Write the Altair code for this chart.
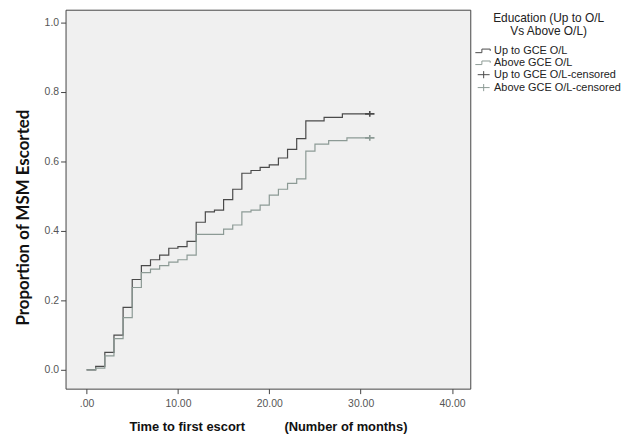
import altair as alt
import pandas as pd

# Kaplan-Meier style cumulative proportions
up_t = [0, 1, 2, 3, 4, 5, 6, 7, 8, 9, 10, 11, 12, 13, 14, 15, 16, 17, 18, 19, 20, 21, 22, 23, 24, 26, 28, 31]
up_p = [0, 0.01, 0.05, 0.10, 0.18, 0.26, 0.30, 0.317, 0.33, 0.35, 0.355, 0.37, 0.425, 0.455, 0.46, 0.49,
        0.52, 0.566, 0.574, 0.583, 0.59, 0.61, 0.635, 0.666, 0.717, 0.727, 0.737, 0.737]

lo_t = [0, 1, 2, 3, 4, 5, 6, 7, 8, 9, 10, 11, 12, 15, 16, 17, 18, 19, 20, 21, 22, 23, 24, 25, 26.5, 28.5, 31]
lo_p = [0, 0.005, 0.04, 0.09, 0.15, 0.237, 0.28, 0.29, 0.30, 0.31, 0.317, 0.33, 0.39, 0.405, 0.417, 0.455,
        0.46, 0.474, 0.503, 0.52, 0.537, 0.55, 0.63, 0.65, 0.66, 0.668, 0.668]

cens_t = [31, 31]
cens_p = [0.737, 0.668]

legend_labels = ["Up to GCE O/L", "Above GCE O/L", "Up to GCE O/L-censored", "Above GCE O/L-censored"]
dark = "#4a4a4a"
light = "#8c9a95"
legend_colors = [dark, light, dark, light]
step_path = "M-1.4,0.3L-0.3,0.3L-0.3,-0.3L1.1,-0.3L1.1,0"
plus_path = "M-1,0L1,0M0,-0.6L0,0.6"
legend_shapes = [step_path, step_path, plus_path, plus_path]

lines = pd.concat([
    pd.DataFrame({"t": up_t, "p": up_p, "group": "Up to GCE O/L", "stroke": dark}),
    pd.DataFrame({"t": lo_t, "p": lo_p, "group": "Above GCE O/L", "stroke": light}),
])
cens = pd.DataFrame({"t": cens_t, "p": cens_p,
                     "group": ["Up to GCE O/L-censored", "Above GCE O/L-censored"]})

xscale = alt.Scale(domain=[-2.3, 42], nice=False, zero=False)
yscale = alt.Scale(domain=[-0.0543, 1.037], nice=False, zero=False)

xaxis = alt.Axis(values=[0, 10, 20, 30, 40],
                 labelExpr="datum.value == 0 ? '.00' : format(datum.value, '.2f')",
                 labelPadding=5,
                 title="Time to first escort\u00a0\u00a0\u00a0\u00a0\u00a0\u00a0\u00a0\u00a0\u00a0\u00a0\u00a0(Number of months)",
                 titleFont="Liberation Sans", titleFontSize=13, titleFontWeight="bold",
                 titleColor="#111", titlePadding=12)
yaxis = alt.Axis(values=[0, 0.2, 0.4, 0.6, 0.8, 1.0], format=".1f",
                 title="Proportion of MSM Escorted",
                 titleFont="Lato", titleFontSize=17, titleFontWeight="bold",
                 titleColor="#111", titlePadding=12, titleY=209)

line_layer = alt.Chart(lines).mark_line(interpolate="step-after", strokeWidth=1.2).encode(
    x=alt.X("t:Q", scale=xscale, axis=xaxis),
    y=alt.Y("p:Q", scale=yscale, axis=yaxis),
    color=alt.Color("stroke:N", scale=None),
    detail="group:N",
)

point_layer = alt.Chart(cens).mark_point(filled=False, size=90, strokeWidth=1.6, opacity=1).encode(
    x=alt.X("t:Q", scale=xscale),
    y=alt.Y("p:Q", scale=yscale),
    color=alt.Color("group:N", scale=alt.Scale(domain=legend_labels, range=legend_colors),
                    legend=alt.Legend(title=["Education (Up to O/L", "Vs Above O/L)"])),
    shape=alt.Shape("group:N", scale=alt.Scale(domain=legend_labels, range=legend_shapes),
                    legend=alt.Legend(title=["Education (Up to O/L", "Vs Above O/L)"])),
)

chart = alt.layer(line_layer, point_layer).properties(
    width=408, height=382, padding={"left": 6, "top": 0, "right": 5, "bottom": 0}
).configure_view(
    fill="#f0f0f0", stroke="#444444", strokeWidth=1
).configure_axis(
    grid=False, domain=False, tickColor="#444", tickSize=5,
    labelFont="Liberation Sans", labelFontSize=10.5, labelColor="#555", labelPadding=2
).configure_legend(
    orient="right", offset=4, titleFont="Liberation Sans", titleFontSize=12, titleFontWeight="normal",
    titleColor="#222", titleAnchor="middle", titleAlign="center", titlePadding=6, titleLimit=300,
    labelFont="Liberation Sans", labelFontSize=11, labelColor="#222", labelLimit=300,
    symbolSize=144, symbolStrokeWidth=1, rowPadding=0, labelOffset=4, padding=3
)

chart.save("out.html", embed_options={"renderer": "svg", "actions": False})
